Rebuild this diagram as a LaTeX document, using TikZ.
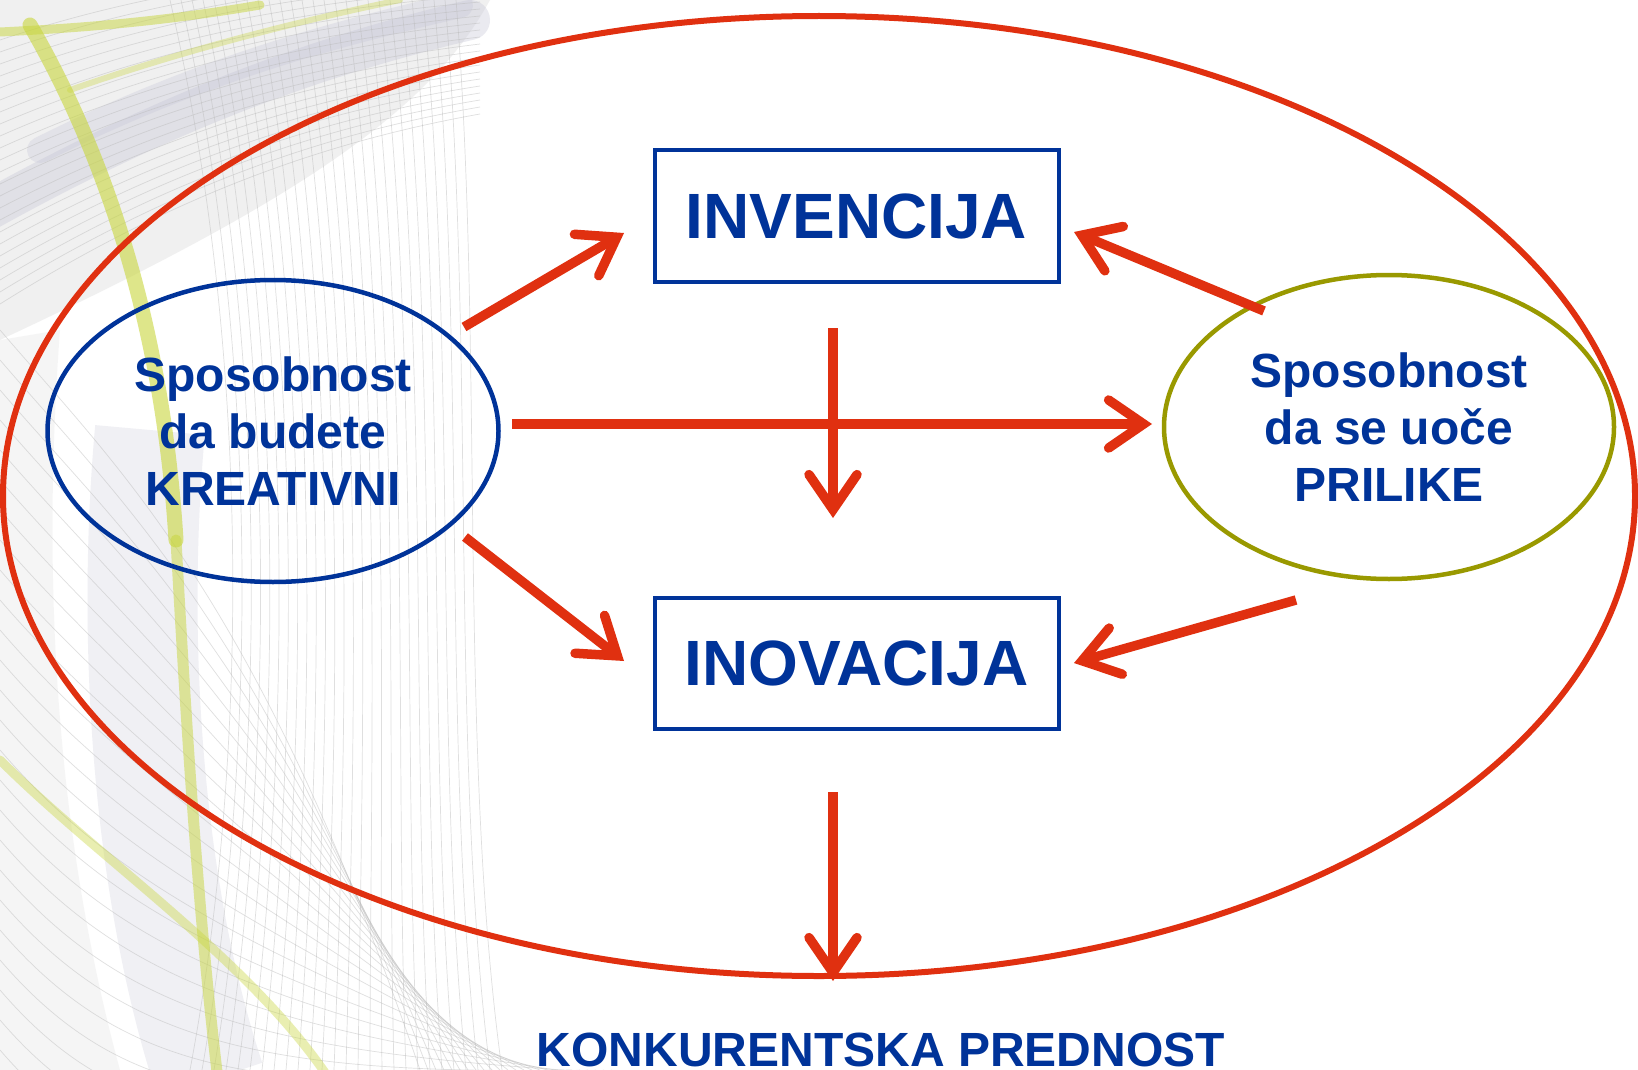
\documentclass[tikz,border=0pt]{standalone}
\usepackage{fontspec}
\setmainfont{Liberation Sans}
\usetikzlibrary{shapes.geometric,arrows.meta}
\definecolor{blueT}{RGB}{0,51,153}
\definecolor{redA}{RGB}{224,48,16}
\definecolor{oliveE}{RGB}{153,153,0}
\definecolor{lav}{RGB}{196,196,214}
\definecolor{ylw}{RGB}{200,214,60}
\tikzset{
  bgline/.style={draw=gray!55, line width=0.7pt, opacity=0.45},
  ylwband/.style={draw=ylw, line cap=round, opacity=0.6},
  redarrow/.style={draw=redA, line width=9.5pt,
    -{Straight Barb[length=35pt, width=48pt, line cap=round, line join=miter]}},
  labelbox/.style={draw=blueT, line width=4pt, rectangle, minimum width=404pt,
    minimum height=131pt, inner sep=0pt, text=blueT,
    font=\fontsize{64}{70}\selectfont\bfseries},
  oval/.style={ellipse, line width=4.5pt, inner sep=0pt, text=blueT, align=center,
    font=\fontsize{48}{57}\selectfont\bfseries},
}
\begin{document}
\begin{tikzpicture}[x=1pt, y=-1pt]
\useasboundingbox (0,0) rectangle (1638,1070);
\clip (0,0) rectangle (1638,1070);
\fill[white] (0,0) rectangle (1638,1070);
% ---- decorative background (left side) ----
\fill[gray!14, opacity=0.8] (0,0) -- (490,0) .. controls (430,110) and (300,200) .. (0,340) -- cycle;
\draw[lav, line width=40pt, line cap=round, opacity=0.35] (-20,215) .. controls (150,120) and (300,60) .. (470,20);
\draw[lav, line width=26pt, line cap=round, opacity=0.3] (40,150) .. controls (200,70) and (330,35) .. (460,5);
\draw[lav, line width=110pt, opacity=0.25] (150,430) .. controls (130,650) and (150,900) .. (210,1080);
\fill[gray!10, opacity=0.7] (0,340) -- (0,1070) -- (120,1070) .. controls (60,850) and (40,600) .. (60,330) -- cycle;
\foreach \i in {0,...,26} {
  \draw[bgline] (170+11*\i,0) .. controls (250+9*\i,350) and (250+8*\i,750) .. (190+12*\i,1070);
}
\foreach \i in {0,...,24} {
  \draw[bgline] (0,330+30*\i) .. controls (120,470+30*\i) and (260,600+25*\i) .. (420+8*\i,1070);
}
\foreach \i in {0,...,22} {
  \draw[bgline] (0,40+12*\i) .. controls (150,-10+10*\i) and (300,-30+8*\i) .. (480,-40+7*\i);
}
\draw[ylwband, line width=15pt] (30,25) .. controls (120,180) and (165,360) .. (176,540);
\draw[ylwband, line width=11pt, opacity=0.5] (176,540) .. controls (188,760) and (200,930) .. (218,1080);
\draw[ylwband, line width=9pt, opacity=0.4] (0,760) .. controls (100,860) and (250,960) .. (330,1080);
\draw[ylwband, line width=9pt, opacity=0.5] (0,32) .. controls (80,28) and (160,22) .. (260,5);
\draw[ylwband, line width=6pt, opacity=0.35] (70,90) .. controls (170,55) and (280,25) .. (400,0);
% ---- outer red ellipse ----
\node[ellipse, draw=redA, line width=6pt, minimum width=1632pt, minimum height=960pt, inner sep=0pt] (outer) at (819,496) {};
% ---- boxes ----
\node[labelbox] (inv) at (856.5,216) {INVENCIJA};
\node[labelbox] (ino) at (856.5,663) {INOVACIJA};
% ---- ellipses ----
\node[oval, draw=blueT, minimum width=451pt, minimum height=302pt] (kre) at (273,431) {Sposobnost\\da budete\\KREATIVNI};
\node[oval, draw=oliveE, minimum width=450pt, minimum height=304pt] (pri) at (1389,427) {Sposobnost\\da se uoče\\PRILIKE};
% ---- bottom label ----
\node[anchor=base, text=blueT, font=\fontsize{48}{57}\selectfont\bfseries, inner sep=0pt] (kon) at (881,1066) {KONKURENTSKA PREDNOST};
% ---- arrow end points ----
\coordinate (a1s) at (464,327); \coordinate (a1e) at (624,233);
\coordinate (a2s) at (1264,311); \coordinate (a2e) at (1074,232);
\coordinate (a3s) at (512,424); \coordinate (a3e) at (1152,424);
\coordinate (a4s) at (833,328); \coordinate (a4e) at (833,518);
\coordinate (a5s) at (465,537); \coordinate (a5e) at (624,661);
\coordinate (a6s) at (1296,600); \coordinate (a6e) at (1074,663);
\coordinate (a7s) at (833,792); \coordinate (a7e) at (833,981);
% ---- arrows ----
\draw[redarrow] (a1s) -- (a1e);
\draw[redarrow] (a2s) -- (a2e);
\draw[redarrow] (a3s) -- (a3e);
\draw[redarrow] (a4s) -- (a4e);
\draw[redarrow] (a5s) -- (a5e);
\draw[redarrow] (a6s) -- (a6e);
\draw[redarrow] (a7s) -- (a7e);
\end{tikzpicture}
\end{document}
